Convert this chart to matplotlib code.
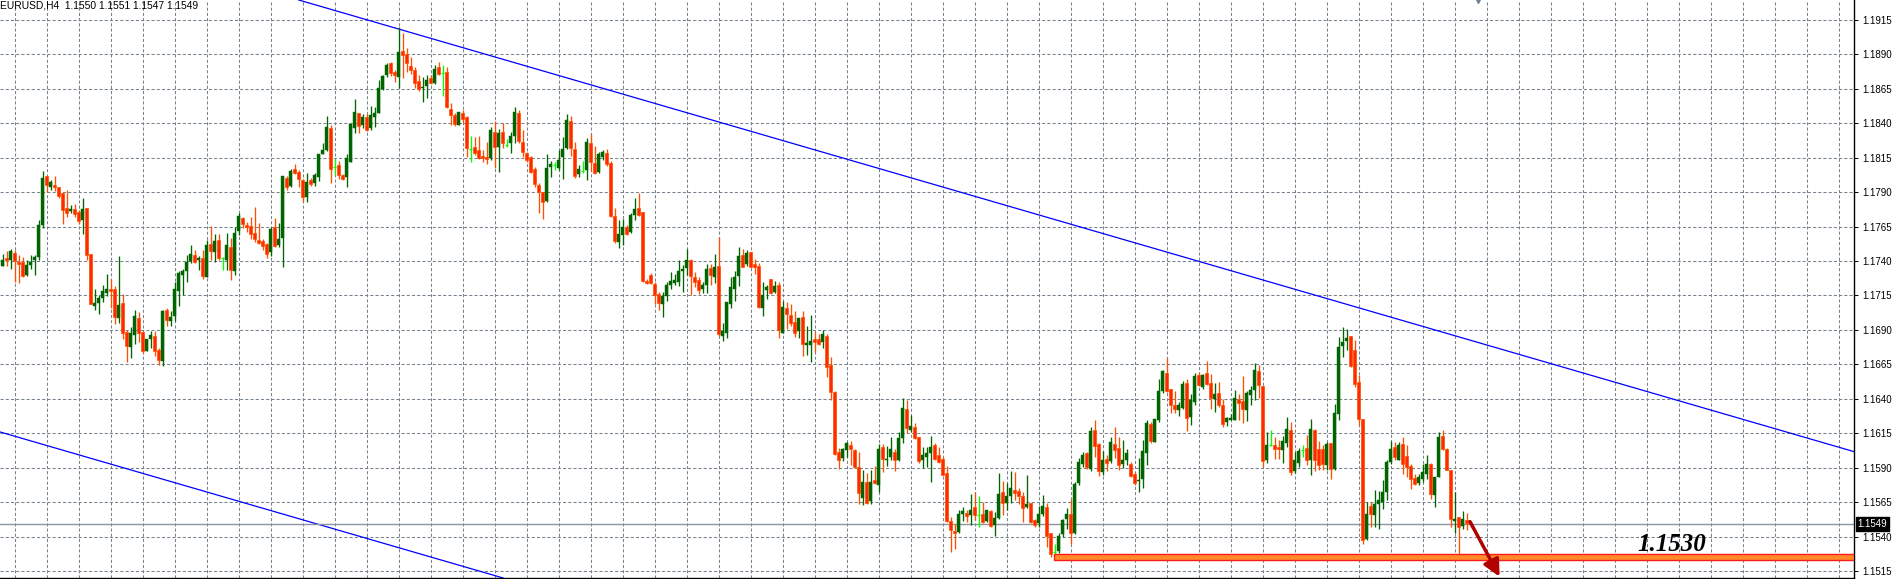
import matplotlib
matplotlib.use("Agg")
import matplotlib.pyplot as plt
from matplotlib.patches import Rectangle
import matplotlib.transforms as mtransforms
import numpy as np

# ---- data: EURUSD H4 candles, values in pips above 1.1500 ----
BASE = 1.1500
PIP = 0.0001

open_pips = [
    236.7, 242, 241, 246, 239, 239, 230, 237, 241, 243,
    266, 302, 294, 295, 293.5, 289, 278.5, 276, 278, 275.6,
    270, 278.5, 245, 207.5, 209.4, 213, 217, 220, 220, 198.3,
    209.7, 188.7, 177.3, 186.5, 198.6, 188.4, 175, 183, 185.8, 175.6,
    167.2, 204.6, 196.2, 199.8, 218, 230, 233, 240.1, 244.5, 241,
    242.5, 228, 252.4, 246.2, 255.3, 242, 240.8, 250, 232.4, 261.4,
    271.3, 266, 265.3, 260.5, 255.1, 254.6, 252.2, 246.2, 264.3, 251.5,
    257, 300, 294.4, 306.7, 304.8, 298.7, 286.6, 298.7, 296.8, 301.1,
    317.6, 320.5, 336.2, 308.4, 309.4, 302.3, 301.1, 312, 336.7, 347.1,
    338.7, 344.7, 336.2, 344.7, 347.6, 364.6, 375, 383.5, 377.2, 373.8,
    392.4, 390, 381.5, 378.6, 370.6, 365.3, 367, 372.6, 368.9, 380.6,
    376.2, 376.9, 350.3, 345.9, 338.7, 347.1, 344.2, 321.5, 323, 320.5,
    316.2, 315.5, 315, 333.9, 323, 333.7, 324.2, 325.4, 331, 347.3,
    326.2, 318.6, 315.2, 306.7, 295.1, 289.8, 283.5, 308, 309.4, 307.2,
    315.2, 322.3, 341.7, 321.1, 302.9, 305.5, 306, 325.4, 310.9, 304.8,
    315.5, 318.6, 311.4, 272.5, 253.8, 259.2, 264.8, 261.1, 273.3, 278.6,
    275.4, 225.4, 230, 223, 215.7, 208.9, 214.5, 222.3, 224, 224.7,
    232.5, 234.9, 241, 228.3, 225.9, 219.4, 222.3, 235.1, 228.3, 236.4,
    185.5, 187.5, 208.7, 219.4, 229.3, 244.6, 237.8, 246.8, 237.8, 236.6,
    205.8, 219.1, 226.9, 217.2, 222.5, 188, 205.8, 200.9, 195.8, 189.3,
    199.5, 179.1, 179.1, 183.2, 183, 181.5, 185.6, 164.5, 145.1, 101.4,
    97.3, 102.7, 106.5, 103, 90.3, 67.6, 79.6, 65.8, 80.8, 77.2,
    105, 95.3, 97.5, 101.5, 95.5, 111.5, 132.3, 117.3, 119.2, 112,
    95.5, 97.9, 100.8, 106.4, 99.1, 96, 86.3, 51.1, 44.1, 43.4,
    56.2, 57.2, 55.5, 61.6, 55.5, 56.2, 51.1, 58.4, 48.7, 53.6,
    72, 64.5, 69.3, 74.1, 72.9, 69.3, 61.1, 64, 51.9, 49.5,
    56.2, 61.6, 42.2, 28.9, 29.6, 41.7, 52.6, 56.7, 42.2, 79,
    93, 100.3, 88.7, 117.3, 106.9, 87.1, 96.3, 94.8, 107.1, 104.5,
    92.7, 95.6, 92.7, 85.4, 80.1, 81.8, 100.8, 121.6, 108.8, 124.5,
    145.5, 158.9, 146.9, 135.3, 131.7, 133.4, 151.4, 126.9, 137.7, 157,
    148.6, 158.7, 151.4, 140.1, 144.2, 135.3, 122.8, 124.5, 124.5, 140.1,
    138.4, 131.7, 142.5, 146.2, 159.9, 149, 95.6, 106.4, 106.4, 105.2,
    102.8, 107.6, 117.3, 87.6, 93.6, 103, 104.5, 95.3, 117, 103.3,
    103.3, 91.7, 108.1, 89.3, 129.1, 178.6, 181.6, 185.9, 175.5, 152.1,
    125.5, 38.5, 62, 55.5, 63.4, 65.1, 72.3, 94.1, 105, 95.3,
    107.4, 98.5, 91.2, 82.8, 78.9, 82, 85.7, 92.9, 70, 83.2,
    112.7, 103.3, 88, 51.1, 54.2, 47.5, 52.2, 50,
]
high_pips = [
    245.2, 247, 249, 248, 244, 243, 241, 244, 244, 270,
    305, 302, 299, 302, 294, 290, 291.6, 280.7, 281, 277,
    285.5, 278.5, 245, 220, 215.5, 222.5, 230.7, 226.8, 221.5, 243.7,
    216.2, 190, 192, 204.4, 202.7, 189.4, 183, 189, 189.4, 176.8,
    204.6, 205.6, 204, 225, 233, 234, 244.5, 251.7, 248, 243.7,
    247.6, 255.3, 265.5, 259.7, 259.4, 243, 260, 256.5, 265, 274.7,
    271.8, 268.5, 272, 278.9, 267.7, 256.3, 253.2, 264.3, 270.9, 267.7,
    301.6, 301.6, 306.5, 310.3, 306, 299.2, 304, 299.9, 303.6, 317.6,
    325.8, 345.2, 338.7, 313.7, 312.5, 303.1, 317.4, 339.2, 357.6, 347.6,
    346.4, 346.4, 352.5, 352, 371.4, 375, 384, 384.7, 378.6, 409.6,
    405.7, 394.4, 387.8, 381, 375, 373.8, 375, 375, 382.3, 384.7,
    382.3, 380.6, 354.4, 347.1, 347.9, 349.6, 345.2, 330.7, 330.2, 330.7,
    320.6, 326.6, 337.1, 341.7, 335.6, 340, 328.3, 333.7, 352.1, 349.7,
    335.1, 319.4, 316.2, 308, 296.3, 290.2, 317.7, 312.8, 312, 320.6,
    330.3, 346.8, 345.3, 326.6, 309.7, 312.6, 329.1, 332.2, 323.5, 319.4,
    320.6, 321.1, 312.8, 278.6, 269.6, 270.8, 266, 274.5, 285.4, 289.5,
    275.4, 227.1, 231.3, 224.7, 217.4, 217.4, 224.7, 232, 230.8, 240.5,
    236.9, 249, 241.7, 232, 228.3, 224.7, 237.6, 238.1, 244.8, 257.5,
    195.2, 210, 228.6, 233, 250, 248.7, 248, 246.8, 241.5, 238.3,
    225, 222.8, 226.9, 225.7, 225, 211.1, 209.9, 208.7, 203.8, 198.5,
    203.8, 192.9, 200.9, 188.8, 186.8, 190.2, 186.8, 170.3, 145.6, 104.3,
    104.5, 108.9, 109.2, 103.5, 101, 88.6, 86.1, 88, 91, 106.9,
    106.9, 106, 112, 103.5, 116, 140.3, 139.1, 128.2, 122.6, 112.4,
    104.7, 104.7, 112.9, 108, 104.7, 97.9, 91.1, 54.3, 48.9, 59.6,
    61.6, 59.6, 71.2, 72.5, 69.3, 65.2, 59.6, 59.1, 57.9, 86.3,
    80.5, 79, 87.5, 87, 75.4, 72.5, 84.6, 64.5, 52.4, 62,
    70, 64, 42.7, 34.9, 42.2, 52.4, 60.4, 66.9, 79.7, 96.7,
    101, 101, 119.7, 124.5, 107.6, 102.3, 99.2, 112.5, 119.7, 112.5,
    110, 103.3, 94.4, 87.1, 96.8, 110, 124.5, 123.3, 125.2, 154.6,
    161.1, 169.8, 146.9, 145.5, 137.7, 152.7, 154.6, 143.3, 158.7, 159.4,
    157.7, 167.1, 158.2, 151.4, 152.2, 140.1, 126.9, 128.8, 146.6, 143.7,
    156.5, 145.7, 149, 166.1, 164.2, 149, 116.1, 117.3, 112.5, 110,
    112.9, 126.4, 123.3, 101.6, 104.5, 106.4, 113.6, 125.5, 118, 109.3,
    106.2, 108.6, 108.1, 135.9, 184.7, 191.9, 190.7, 185.9, 182.3, 156.9,
    125.5, 65.1, 65.1, 74.1, 73.1, 80.8, 95.3, 109.3, 108.6, 108.6,
    112.2, 106.2, 92.9, 85.7, 85.7, 92.9, 98.9, 93.4, 83.2, 115.9,
    117, 104.3, 88.6, 72.4, 54.2, 58.6, 56.9, 51,
]
low_pips = [
    236, 236, 234, 225, 224, 228, 229, 234, 230, 241,
    264, 290, 291.6, 291, 286, 267, 272, 274.6, 272, 267,
    259.7, 241, 209, 204.6, 201.7, 210, 214.3, 206, 194, 195,
    183.6, 166.4, 169.4, 179.7, 181, 173.2, 175, 176.8, 170.8, 164.8,
    164, 192.5, 192.5, 196.6, 207, 215, 224.4, 238.4, 238.4, 233.6,
    227, 228, 240.4, 239.6, 240.8, 233.6, 233.6, 225.9, 230, 259,
    263.8, 261.2, 256.3, 253.9, 252.2, 247.9, 242, 243.5, 250.3, 249.8,
    235.3, 291.5, 293.9, 303, 293.9, 283, 283, 294.6, 294.6, 298.2,
    317.6, 320, 296.8, 302.1, 299.2, 298.7, 293.9, 312, 333.1, 333.1,
    336.7, 334.3, 335, 337.5, 347.1, 364.1, 373.3, 374.3, 370.1, 365.3,
    372.6, 377.4, 375.7, 365.3, 363.6, 355.6, 358, 368.4, 368.4, 375,
    359.7, 350.8, 338.7, 338, 338.7, 339.9, 315.7, 312, 316.9, 313.7,
    312, 310.4, 313.3, 307.7, 304.8, 322.3, 322.5, 318.2, 325.4, 325.4,
    315.7, 312.1, 304.1, 293.4, 275, 270.1, 282.5, 300.7, 306, 306,
    299.5, 321.1, 316.2, 300, 300.7, 304.1, 298.7, 305.3, 303.1, 304.1,
    313.3, 309.2, 272, 253.1, 249.5, 251.4, 258.7, 260.4, 269.6, 272.5,
    224.7, 223, 223, 208.9, 204.1, 199.2, 211.3, 219.4, 222.3, 221.5,
    217.4, 229.6, 215, 221, 216.2, 216.6, 216.9, 222.8, 224, 185.9,
    182, 184.4, 205.5, 210.6, 221.6, 235.4, 236.1, 235.4, 230.5, 205.8,
    200.2, 212.3, 216, 216.5, 184.4, 188, 190.5, 192.9, 185.1, 183.9,
    171.1, 171.8, 166.9, 174, 179.1, 177.1, 156, 139, 99.5, 89.3,
    94.5, 97.5, 91.7, 89.5, 63.6, 62.7, 63.5, 63.9, 77.9, 72.4,
    87, 91, 95.5, 87.3, 94.6, 108, 114.9, 116.1, 110.7, 93.5,
    89.9, 90.1, 79.7, 95.5, 93.1, 84.6, 50.7, 28.9, 31.3, 42.7,
    51.1, 50.7, 48.7, 51.9, 47, 49.5, 50.7, 47, 40.5, 52.6,
    55.5, 59.1, 64, 66.4, 63.5, 50.7, 60.4, 49.5, 47, 47,
    55, 32.5, 25.2, 27.2, 28.1, 39.8, 45.8, 34.9, 41.7, 77.3,
    90.1, 88.7, 87.7, 98, 84, 84.3, 87.6, 93.6, 96.8, 88.4,
    89.5, 92, 83.5, 77.5, 72, 75, 92, 108.1, 108.8, 123.3,
    144.5, 145.2, 129.8, 129.8, 127.4, 132.9, 116.8, 121.3, 135.3, 149,
    147.4, 149.8, 132.9, 130.5, 134.1, 119.7, 120.4, 124.5, 124.5, 124.5,
    122.1, 124, 135.8, 138.9, 140.8, 90.3, 93.2, 105.7, 96.3, 96.3,
    93.2, 105.2, 84.7, 86, 90.3, 98, 92, 84.9, 87.6, 88,
    88.6, 88.6, 82, 88.6, 124.8, 170.2, 175.5, 163.4, 148.5, 120.7,
    34.9, 37.3, 47, 47, 45.8, 60.3, 66.3, 92.9, 95.3, 95.3,
    85.7, 83.2, 74.8, 77.2, 77.2, 79.6, 82, 67.5, 61.5, 83.2,
    102.6, 88, 47, 42.2, 27, 45.8, 45, 47,
]
close_pips = [
    240.8, 241, 247, 240, 238, 229, 237, 239, 243, 266,
    300.5, 295, 297, 294, 287, 277, 275, 278, 274, 269,
    278, 244, 209, 209.7, 213, 218, 220, 218, 199, 208.2,
    187.5, 178, 187.7, 199.8, 188, 175, 183, 186.5, 174.4, 167.9,
    204, 197, 199.3, 219.6, 231.2, 233, 239.6, 245.2, 239, 241.8,
    228.8, 251.7, 247, 254.6, 242, 242, 251.7, 233.1, 260.6, 272.7,
    267, 264.3, 259.3, 256.3, 252.7, 250.8, 245.3, 263.1, 251, 256.3,
    301.6, 293.9, 305.3, 304, 299.2, 286.1, 297, 295.8, 302.3, 317.6,
    320.5, 337, 306.7, 308.4, 302.3, 299.7, 315, 339.2, 347.9, 338,
    344.7, 335, 345.9, 347.1, 365.3, 374.5, 382, 376.2, 375, 391.7,
    389.5, 383.9, 378.6, 368.9, 364.6, 366.5, 371.4, 369.4, 379.1, 375.5,
    376.2, 351.5, 345.9, 339.4, 347.9, 343, 322.2, 321.5, 318.6, 315,
    314.4, 314, 334.7, 323, 332.7, 325.4, 324.2, 330.8, 348.3, 327.4,
    318.9, 313.3, 304.8, 295.8, 290.2, 283, 307.2, 310.4, 309.4, 313.3,
    321.3, 342.4, 322.3, 301.7, 306.7, 305.5, 326.2, 312.1, 304.1, 317.7,
    318.9, 310.1, 272.5, 254.6, 259.9, 264.8, 259.4, 273.7, 277.6, 273.3,
    225.2, 224, 224, 215, 209.4, 214.5, 222.3, 225.4, 225.9, 232.5,
    233.9, 240.5, 228.8, 224.7, 219.1, 222.3, 233.9, 230.1, 235.6, 187.1,
    189, 210, 220.8, 228.6, 243.9, 235.9, 246.1, 235.9, 235.4, 206.3,
    215.5, 221.1, 216.5, 222.1, 189.8, 206.7, 201.4, 194.9, 188, 198.5,
    180, 180.7, 182, 181.5, 180, 186.8, 163.1, 145.1, 100, 95.8,
    103.5, 107.9, 103.5, 90.5, 71.4, 79.6, 64, 79.6, 78.9, 103.8,
    96.5, 96.5, 103.5, 95.5, 111.5, 133, 119, 120.2, 111.2, 94.8,
    99.1, 100.3, 104.7, 96.2, 93.8, 84.6, 51.1, 44.6, 42.7, 56.2,
    58.4, 55, 59.6, 55.5, 55.5, 50.7, 59.1, 47.8, 53.1, 71.2,
    64, 69.3, 75.4, 71.7, 69.3, 60.8, 63.5, 50.2, 48.2, 56.2,
    62, 40.3, 27.6, 28.9, 40.5, 51.9, 56.2, 42.7, 78, 93.8,
    99.1, 90.1, 116.6, 105.7, 87.6, 95.6, 93.6, 108.3, 102.8, 92,
    95.6, 100.4, 84.2, 79.2, 81.3, 102.1, 122.5, 109.3, 125.2, 145.5,
    159.9, 145.7, 135.3, 132.9, 135.3, 150.5, 125.7, 138.9, 156.3, 149.8,
    157, 151, 140.8, 143.7, 135.3, 121.6, 126.2, 126.2, 140.8, 137,
    132.4, 144.2, 146.2, 161.1, 149.8, 94.8, 106.4, 106.4, 103.5, 103.5,
    109.3, 118, 87.1, 95.6, 102.1, 103, 95.6, 117.8, 95.3, 91.7,
    92.4, 106.9, 89.3, 129.9, 177.4, 181.1, 183.8, 164.1, 150.9, 125.5,
    37.8, 56.7, 56.7, 63.4, 66.3, 72.3, 94.1, 103.8, 97.7, 106.2,
    92.4, 90.5, 82, 77.9, 83.2, 86.9, 92.9, 71.2, 83.2, 112.2,
    103.3, 88, 53, 53, 47, 53, 50.1, 49,
]

price_ticks = [1.1515, 1.1540, 1.1565, 1.1590, 1.1615, 1.1640, 1.1665, 1.1690,
               1.1715, 1.1740, 1.1765, 1.1790, 1.1815, 1.1840, 1.1865, 1.1890, 1.1915]
level_price = 1.1530
level_band = (1.15228, 1.15275)      # drawn band (bottom, top)
level_start = 262.8                  # candle index where the band starts
upper_channel = [(91.2, 1.19149), (449.3, 1.1613)]
lower_channel = [(-0.675, 1.16159), (125.1, 1.15099)]
arrow_from = (366.8, 1.15508)
arrow_to = (374.2, 1.15109)
symbol = "EURUSD,H4"

opens = BASE + np.array(open_pips) * PIP
highs = BASE + np.array(high_pips) * PIP
lows = BASE + np.array(low_pips) * PIP
closes = BASE + np.array(close_pips) * PIP
n = len(opens)
idx = np.arange(n)

# ---- figure ----
W, H = 1897, 579
fig = plt.figure(figsize=(W / 100, H / 100), dpi=100)
fig.patch.set_facecolor("white")
ax = fig.add_axes([0, 1 / H, 1854 / W, 578 / H])
ax.set_facecolor("white")
XMIN, XMAX = -0.675, 462.8
ax.set_xlim(XMIN, XMAX)
ax.set_ylim(1.15099, 1.19294)

GRID = "#77838f"
for gx in np.arange(3, XMAX, 8):
    ax.axvline(gx, color=GRID, lw=0.75, ls=(0, (3, 2)), zorder=0)
for gy in price_ticks:
    ax.axhline(gy, color=GRID, lw=0.75, ls=(0, (3, 2)), zorder=0)

# channel lines
ax.axline(upper_channel[0], upper_channel[1], color="#0000ff", lw=0.9, zorder=1)
ax.axline(lower_channel[0], lower_channel[1], color="#0000ff", lw=0.9, zorder=1)

# current price line
ax.axhline(closes[-1], color="#8a95a1", lw=1.0, zorder=1)

# candles
GREEN = "#006400"
RED_FACE = "#ff2a00"
RED_EDGE = "#ff5000"
DOJI = "#00ff00"
bull = closes > opens
bear = closes < opens
doji = ~(bull | bear)

wick_colors = np.where(bull, GREEN, np.where(bear, RED_EDGE, DOJI))
ax.vlines(idx, lows, highs, colors=wick_colors, lw=0.95, zorder=3)

min_h = 0.00006
body_bottom = np.minimum(opens, closes)
body_h = np.maximum(np.abs(closes - opens), min_h)
ax.bar(idx[bull], body_h[bull], bottom=body_bottom[bull], width=0.74,
       color=GREEN, edgecolor=GREEN, lw=0.3, zorder=4)
ax.bar(idx[bear], body_h[bear], bottom=body_bottom[bear], width=0.74,
       color=RED_FACE, edgecolor=RED_EDGE, lw=0.5, zorder=4)
ax.hlines(closes[doji], idx[doji] - 0.4, idx[doji] + 0.4, colors=DOJI, lw=0.9, zorder=4)

# support level band
ax.add_patch(Rectangle((level_start, level_band[0]), XMAX - level_start,
                       level_band[1] - level_band[0], facecolor="#ff8a2a",
                       edgecolor="#ff1a1a", lw=1.0, zorder=5))
ax.text(408.6, 1.15295, f"{level_price:.4f}", fontsize=18, family="Liberation Serif",
        fontweight="bold", fontstyle="italic", color="black", va="baseline",
        ha="left", zorder=6)

# arrow
ax.annotate("", xy=arrow_to, xytext=arrow_from,
            arrowprops=dict(arrowstyle="-|>,head_width=0.5,head_length=1.0",
                            color="#b00000", lw=2.5, shrinkA=0, shrinkB=0),
            zorder=6)

# shift marker at the top
ax.plot([368.9], [1.19294], marker="v", ms=4, color="#708090", clip_on=False, zorder=7)

# axes styling
for s in ["left", "top"]:
    ax.spines[s].set_visible(False)
for s in ["right", "bottom"]:
    ax.spines[s].set_color("black")
    ax.spines[s].set_linewidth(1.0)
ax.set_xticks([])
ax.yaxis.tick_right()
ax.set_yticks(price_ticks)
ax.set_yticklabels([f"{p:.4f}" for p in price_ticks])
ax.tick_params(axis="y", which="both", length=3, width=0.7, color="black",
               labelsize=7, pad=3, labelcolor="black")
for lab in ax.get_yticklabels():
    lab.set_family("Liberation Sans")

# current price label
trans = mtransforms.blended_transform_factory(ax.transAxes, ax.transData)
ax.text(1.0018, closes[-1], f"{closes[-1]:.4f}", transform=trans, fontsize=7,
        family="Liberation Sans", color="white", ha="left", va="center",
        bbox=dict(boxstyle="square,pad=0.18", fc="black", ec="black"),
        clip_on=False, zorder=8)

# title
fig.text(0.0, 1 - 5.5 / H,
         f"{symbol}  {opens[-1]:.4f} {highs[-1]:.4f} {lows[-1]:.4f} {closes[-1]:.4f}",
         fontsize=7.4, family="Liberation Sans", color="black", ha="left", va="center")

fig.savefig("out.png", dpi=100, facecolor="white")
